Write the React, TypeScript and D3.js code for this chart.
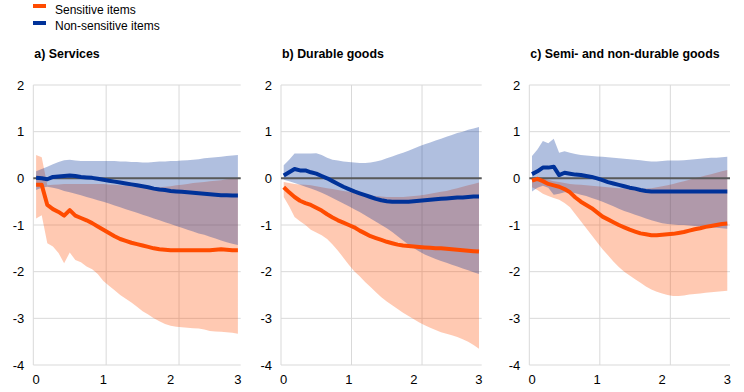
import React from 'react';
import * as d3 from 'd3';

// months 0..36 after the shock, labelled in years
const MONTHS = d3.range(0, 37);
const YEAR_LABELS = ['0', '1', '2', '3'];
const Y_TICKS = [2, 1, 0, -1, -2, -3, -4];
const SERIES_NAMES = ['Sensitive items', 'Non-sensitive items'];
const PANEL_TITLES = ['a) Services', 'b) Durable goods', 'c) Semi- and non-durable goods'];

// a) Services
const servSens = [-0.14, -0.14, -0.57, -0.66, -0.72, -0.8, -0.68, -0.8, -0.85, -0.9, -0.96, -1.03, -1.1, -1.17, -1.24, -1.3, -1.34, -1.38, -1.41, -1.44, -1.47, -1.5, -1.52, -1.53, -1.54, -1.54, -1.54, -1.54, -1.54, -1.54, -1.54, -1.54, -1.53, -1.52, -1.53, -1.54, -1.54];
const servSensHi = [0.5, 0.45, -0.15, -0.14, -0.13, -0.12, -0.12, -0.12, -0.12, -0.12, -0.12, -0.12, -0.12, -0.13, -0.14, -0.15, -0.16, -0.17, -0.18, -0.19, -0.2, -0.2, -0.19, -0.18, -0.17, -0.15, -0.14, -0.12, -0.1, -0.09, -0.08, -0.06, -0.05, -0.04, -0.02, -0.01, 0.0];
const servSensLo = [-0.86, -0.79, -1.39, -1.46, -1.6, -1.82, -1.59, -1.75, -1.8, -1.89, -1.95, -2.05, -2.2, -2.3, -2.4, -2.5, -2.58, -2.66, -2.75, -2.85, -2.92, -3.0, -3.06, -3.12, -3.16, -3.18, -3.19, -3.2, -3.21, -3.22, -3.24, -3.27, -3.28, -3.29, -3.3, -3.31, -3.33];
const servNon = [0.01, 0.0, -0.02, 0.03, 0.04, 0.05, 0.06, 0.05, 0.03, 0.02, 0.01, -0.01, -0.03, -0.05, -0.07, -0.09, -0.11, -0.13, -0.15, -0.17, -0.19, -0.22, -0.24, -0.25, -0.27, -0.28, -0.29, -0.3, -0.31, -0.32, -0.33, -0.34, -0.35, -0.36, -0.36, -0.37, -0.37];
const servNonHi = [0.15, 0.2, 0.25, 0.3, 0.35, 0.39, 0.4, 0.38, 0.37, 0.37, 0.37, 0.37, 0.37, 0.37, 0.37, 0.36, 0.36, 0.35, 0.35, 0.34, 0.34, 0.35, 0.36, 0.36, 0.37, 0.37, 0.38, 0.39, 0.4, 0.41, 0.43, 0.44, 0.45, 0.46, 0.48, 0.49, 0.5];
const servNonLo = [-0.25, -0.2, -0.18, -0.2, -0.23, -0.27, -0.3, -0.33, -0.36, -0.4, -0.43, -0.47, -0.5, -0.54, -0.58, -0.62, -0.66, -0.7, -0.74, -0.78, -0.82, -0.86, -0.9, -0.94, -0.98, -1.02, -1.06, -1.1, -1.14, -1.18, -1.21, -1.25, -1.29, -1.33, -1.37, -1.4, -1.43];

// b) Durable goods
const durSens = [-0.19, -0.3, -0.4, -0.48, -0.53, -0.57, -0.63, -0.69, -0.77, -0.84, -0.9, -0.95, -1.0, -1.05, -1.12, -1.18, -1.24, -1.28, -1.32, -1.36, -1.39, -1.42, -1.44, -1.45, -1.46, -1.47, -1.48, -1.49, -1.5, -1.5, -1.51, -1.52, -1.53, -1.54, -1.55, -1.56, -1.57];
const durSensHi = [-0.08, -0.1, -0.12, -0.13, -0.14, -0.15, -0.17, -0.19, -0.21, -0.23, -0.25, -0.27, -0.29, -0.31, -0.33, -0.35, -0.37, -0.38, -0.39, -0.4, -0.4, -0.4, -0.4, -0.39, -0.38, -0.37, -0.35, -0.33, -0.31, -0.29, -0.27, -0.24, -0.21, -0.18, -0.15, -0.12, -0.09];
const durSensLo = [-0.4, -0.6, -0.83, -0.92, -1.0, -1.1, -1.16, -1.22, -1.3, -1.42, -1.55, -1.7, -1.85, -1.99, -2.1, -2.22, -2.33, -2.44, -2.55, -2.64, -2.72, -2.8, -2.88, -2.95, -3.02, -3.09, -3.15, -3.2, -3.25, -3.3, -3.33, -3.36, -3.4, -3.45, -3.5, -3.57, -3.65];
const durNon = [0.06, 0.13, 0.2, 0.17, 0.17, 0.13, 0.1, 0.05, 0.0, -0.06, -0.12, -0.18, -0.23, -0.28, -0.32, -0.36, -0.4, -0.44, -0.47, -0.49, -0.5, -0.5, -0.5, -0.5, -0.49, -0.48, -0.47, -0.46, -0.45, -0.44, -0.43, -0.42, -0.41, -0.41, -0.4, -0.39, -0.39];
const durNonHi = [0.28, 0.4, 0.53, 0.53, 0.53, 0.53, 0.54, 0.5, 0.44, 0.4, 0.38, 0.36, 0.35, 0.34, 0.33, 0.33, 0.34, 0.36, 0.39, 0.43, 0.47, 0.51, 0.55, 0.59, 0.64, 0.69, 0.73, 0.77, 0.81, 0.85, 0.89, 0.93, 0.97, 1.0, 1.04, 1.07, 1.1];
const durNonLo = [-0.03, -0.06, -0.1, -0.14, -0.18, -0.22, -0.26, -0.31, -0.36, -0.42, -0.48, -0.54, -0.6, -0.66, -0.72, -0.79, -0.86, -0.93, -1.0, -1.07, -1.15, -1.24, -1.33, -1.42, -1.5, -1.57, -1.63, -1.68, -1.73, -1.77, -1.81, -1.85, -1.89, -1.93, -1.97, -2.01, -2.05];

// c) Semi- and non-durable goods
const semiSens = [-0.05, -0.01, -0.06, -0.12, -0.15, -0.18, -0.23, -0.3, -0.41, -0.5, -0.57, -0.64, -0.73, -0.82, -0.88, -0.94, -1.0, -1.05, -1.1, -1.14, -1.18, -1.2, -1.22, -1.22, -1.21, -1.2, -1.19, -1.17, -1.15, -1.12, -1.09, -1.07, -1.04, -1.02, -1.0, -0.98, -0.97];
const semiSensHi = [0.02, 0.03, 0.0, -0.03, -0.06, -0.08, -0.1, -0.12, -0.13, -0.14, -0.15, -0.16, -0.17, -0.18, -0.19, -0.2, -0.21, -0.22, -0.23, -0.23, -0.23, -0.22, -0.21, -0.19, -0.17, -0.15, -0.12, -0.09, -0.06, -0.03, 0.0, 0.03, 0.06, 0.09, 0.12, 0.15, 0.18];
const semiSensLo = [-0.19, -0.25, -0.33, -0.38, -0.42, -0.46, -0.53, -0.62, -0.77, -0.92, -1.07, -1.22, -1.37, -1.52, -1.65, -1.78, -1.9, -2.0, -2.08, -2.16, -2.24, -2.32, -2.38, -2.43, -2.47, -2.5, -2.52, -2.52, -2.51, -2.49, -2.48, -2.47, -2.45, -2.44, -2.43, -2.42, -2.41];
const semiNon = [0.09, 0.15, 0.23, 0.23, 0.25, 0.07, 0.12, 0.1, 0.08, 0.07, 0.05, 0.03, 0.0, -0.04, -0.08, -0.11, -0.14, -0.17, -0.2, -0.22, -0.25, -0.27, -0.28, -0.28, -0.28, -0.28, -0.28, -0.28, -0.28, -0.28, -0.28, -0.28, -0.28, -0.28, -0.28, -0.28, -0.28];
const semiNonHi = [0.48, 0.62, 0.8, 0.75, 0.85, 0.55, 0.58, 0.55, 0.52, 0.5, 0.49, 0.48, 0.47, 0.46, 0.45, 0.44, 0.43, 0.42, 0.41, 0.4, 0.39, 0.37, 0.36, 0.36, 0.37, 0.38, 0.38, 0.38, 0.39, 0.4, 0.41, 0.42, 0.43, 0.44, 0.44, 0.45, 0.46];
const semiNonLo = [-0.28, -0.2, -0.16, -0.2, -0.35, -0.33, -0.3, -0.3, -0.32, -0.35, -0.38, -0.42, -0.46, -0.5, -0.55, -0.6, -0.65, -0.7, -0.74, -0.78, -0.82, -0.86, -0.9, -0.93, -0.96, -0.98, -0.99, -1.0, -1.0, -1.01, -1.02, -1.03, -1.04, -1.05, -1.06, -1.07, -1.08];

const ORANGE = '#ff4b00';
const BLUE = '#003299';
const FONT = '"Liberation Sans", Arial, sans-serif';

const panels = [
  { title: PANEL_TITLES[0], left: 33.3, right: 240.7, sens: servSens, sensHi: servSensHi, sensLo: servSensLo, non: servNon, nonHi: servNonHi, nonLo: servNonLo },
  { title: PANEL_TITLES[1], left: 281, right: 481.7, sens: durSens, sensHi: durSensHi, sensLo: durSensLo, non: durNon, nonHi: durNonHi, nonLo: durNonLo },
  { title: PANEL_TITLES[2], left: 529.3, right: 730, sens: semiSens, sensHi: semiSensHi, sensLo: semiSensLo, non: semiNon, nonHi: semiNonHi, nonLo: semiNonLo },
];

const TOP = 85;
const BOTTOM = 365;

function Panel({ p }: { p: typeof panels[number] }) {
  // Excel-like category axis: 37 monthly categories, ticks every 13, labels every 12
  const x = d3.scaleLinear().domain([0, MONTHS.length]).range([p.left, p.right]);
  const y = d3.scaleLinear().domain([-4, 2]).range([BOTTOM, TOP]);
  const cx = (i: number) => x(i + 0.5);

  const band = (hi: number[], lo: number[]) =>
    d3.area<number>().x((_, i) => cx(i)).y0((_, i) => y(lo[i])).y1((_, i) => y(hi[i]))(MONTHS) || '';
  const line = (v: number[]) => d3.line<number>().x((_, i) => cx(i)).y((_, i) => y(v[i]))(MONTHS) || '';

  const gridX = [13, 26].map(c => x(c));

  return (
    <g>
      <text x={p.left + 1} y={58} fontSize={12.4} fontWeight="bold" fill="#000">{p.title}</text>
      {Y_TICKS.map(t => (
        <g key={t}>
          <line x1={p.left} x2={p.right} y1={y(t)} y2={y(t)} stroke="#d9d9d9" strokeWidth={1} />
          <text x={p.left - 9} y={y(t) + 4.5} fontSize={13} textAnchor="end" fill="#000">{t}</text>
        </g>
      ))}
      {gridX.map((gx, k) => (
        <line key={k} x1={gx} x2={gx} y1={TOP} y2={BOTTOM} stroke="#d9d9d9" strokeWidth={1} />
      ))}
      <line x1={p.left} x2={p.left} y1={TOP} y2={BOTTOM} stroke="#d9d9d9" strokeWidth={1} />
      {YEAR_LABELS.map((lab, k) => (
        <text key={lab} x={cx(k * 12)} y={384} fontSize={13} textAnchor="middle" fill="#000">{lab}</text>
      ))}
      <path d={band(p.sensHi, p.sensLo)} fill={ORANGE} fillOpacity={0.3} />
      <path d={band(p.nonHi, p.nonLo)} fill={BLUE} fillOpacity={0.31} />
      <line x1={p.left} x2={p.right} y1={y(0)} y2={y(0)} stroke="#595959" strokeWidth={2} />
      <path d={line(p.sens)} fill="none" stroke={ORANGE} strokeWidth={4} strokeLinejoin="round" />
      <path d={line(p.non)} fill="none" stroke={BLUE} strokeWidth={4} strokeLinejoin="round" />
    </g>
  );
}

export default function App() {
  return (
    <svg width={744} height={392} style={{ position: 'absolute', left: 0, top: 0, background: '#fff' }} fontFamily={FONT}>
      <rect x={33} y={4} width={13} height={4} fill={ORANGE} />
      <text x={55} y={14} fontSize={12} fill="#000">{SERIES_NAMES[0]}</text>
      <rect x={33} y={21} width={13} height={4} fill={BLUE} />
      <text x={55} y={30} fontSize={12} fill="#000">{SERIES_NAMES[1]}</text>
      {panels.map(p => <Panel key={p.title} p={p} />)}
    </svg>
  );
}
